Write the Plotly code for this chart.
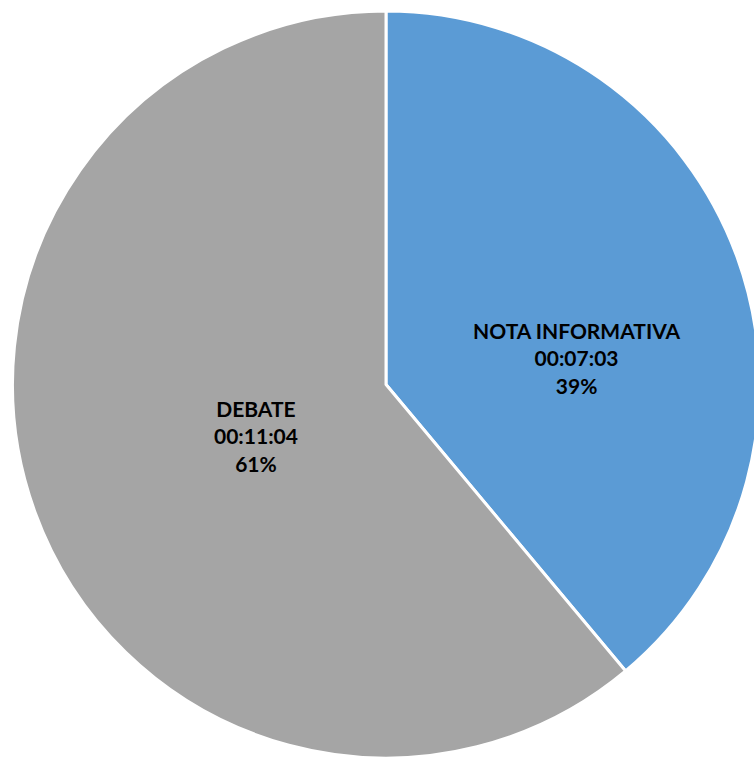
import plotly.graph_objects as go

categories = ["NOTA INFORMATIVA", "DEBATE"]
durations = ["00:07:03", "00:11:04"]
seconds = [423, 664]
colors = ["#5B9BD5", "#A5A5A5"]
# label anchor positions (paper coords) for each slice's data label
label_x = [0.7566, 0.336]
label_y = [0.5277, 0.4248]

W, H = 762, 758
total = sum(seconds)
percents = [round(100 * v / total) for v in seconds]

fig = go.Figure(go.Pie(
    labels=categories,
    values=seconds,
    customdata=durations,
    sort=False,
    direction="clockwise",
    rotation=0,
    marker=dict(colors=colors, line=dict(color="white", width=3)),
    textinfo="none",
    hoverinfo="label+value+percent",
    showlegend=False,
    domain=dict(x=[12.5 / W, 759.5 / W], y=[0, 1 - 11 / H]),
))
for cat, dur, pct, lx, ly in zip(categories, durations, percents, label_x, label_y):
    fig.add_annotation(
        x=lx, y=ly, xref="paper", yref="paper",
        xanchor="center", yanchor="middle",
        text=f"<b>{cat}<br>{dur}<br>{pct}%</b>",
        showarrow=False, align="center",
        font=dict(family="Lato", size=21, color="black"),
    )
fig.update_layout(
    width=W, height=H,
    margin=dict(l=0, r=0, t=0, b=0),
    paper_bgcolor="white",
)
fig.write_html(
    "out.html",
    config={"displayModeBar": False},
    post_script=(
        "document.body.style.margin='0';"
        "document.body.style.overflow='hidden';"
        "document.documentElement.style.overflow='hidden';"
    ),
)
